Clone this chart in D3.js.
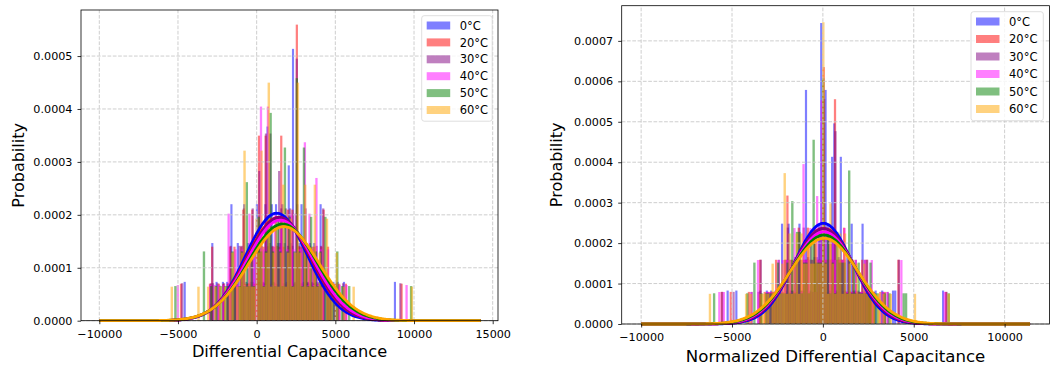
<!DOCTYPE html>
<html>
<head>
<meta charset="utf-8">
<script src="https://cdn.jsdelivr.net/npm/d3@7"></script>
<style>
body { margin: 0; background: #fff; }
svg { display: block; font-family: "DejaVu Sans", sans-serif; }
</style>
</head>
<body>
<div id="chart"></div>
<script>
const width = 1050
const height = 367

const labels = ["0°C", "20°C", "30°C", "40°C", "50°C", "60°C"]
const colors = ["blue", "red", "purple", "magenta", "green", "orange"]

// ---- left panel: raw differential capacitance (100 bins per series) ----
const leftMin = [-4640, -4880, -4800, -5085, -5240, -5470]
const leftMax = [8855, 9280, 9200, 9600, 9890, 9940]
const left0 = [1,0,0,0,0,0,0,0,0,0, 0,0,0,2,0,1,0,0,1,0, 1,0,3,0,1,2,0,1,3,1, 2,1,1,2,3,1,2,1,3,5, 2,3,1,3,2,2,3,2,1,4,
               2,7,1,3,2,3,1,2,1,2, 1,2,1,1,3,1,1,1,0,1, 1,0,1,0,0,1,0,0,0,0, 0,0,0,0,0,0,0,0,0,0, 0,0,0,0,0,0,0,0,0,1]
const left20 = [1,0,0,0,0,0,0,0,0,0, 0,0,0,1,2,0,0,1,0,1, 0,1,2,0,2,1,0,2,3,1, 1,1,3,1,2,5,1,2,5,2, 1,2,2,1,2,5,2,1,3,2,
                3,1,8,2,2,1,2,2,1,2, 2,1,0,2,3,0,2,1,0,1, 0,1,0,0,1,0,0,0,0,0, 0,0,0,0,0,0,0,0,0,0, 0,0,0,0,0,0,0,0,0,1]
const left30 = [1,0,0,0,0,0,0,0,0,0, 0,0,0,1,1,0,1,0,0,1, 0,1,2,1,1,0,2,2,3,0, 1,2,3,0,2,4,2,1,5,2, 5,2,1,2,4,3,1,3,2,3,
                2,1,7,2,1,2,3,1,2,1, 1,2,1,2,3,0,1,1,0,0, 1,0,0,1,0,0,0,0,0,0, 0,0,0,0,0,0,0,0,0,0, 0,0,0,0,0,0,0,0,0,1]
const left40 = [1,0,0,0,0,0,0,0,0,0, 0,0,0,0,1,0,1,0,1,0, 1,0,3,1,0,2,1,0,2,1, 1,3,2,2,2,1,6,2,1,6, 2,1,3,2,2,3,2,2,2,3,
                2,3,2,2,2,5,1,3,2,1, 4,1,2,1,0,2,1,0,1,0, 1,0,0,1,0,0,0,0,0,0, 0,0,0,0,0,0,0,0,0,0, 0,0,0,0,0,0,0,0,0,1]
const left50 = [1,0,0,0,0,0,0,0,0,0, 0,0,2,0,0,1,0,1,0,1, 0,1,1,0,2,1,0,1,2,1, 4,1,2,1,0,3,2,1,2,3, 6,2,1,3,2,1,5,2,3,1,
                2,7,2,1,5,2,1,3,1,2, 1,2,0,3,1,1,1,1,2,0, 1,0,0,1,0,0,0,0,0,0, 0,0,0,0,0,0,0,0,0,0, 0,0,0,0,0,0,0,0,0,1]
const left60 = [1,0,0,0,0,0,0,0,0,0, 0,1,0,0,0,1,0,0,1,0, 1,0,1,0,1,2,0,1,1,2, 5,1,2,1,1,3,2,5,1,2, 7,1,2,3,1,2,4,1,2,3,
                1,2,7,2,1,4,1,2,1,4, 1,2,1,0,3,1,1,0,2,0, 0,1,0,0,0,1,0,0,0,0, 0,0,0,0,0,0,0,0,0,0, 0,0,0,0,0,0,0,0,0,1]
// fitted normal curves
const leftMu = [1270, 1400, 1450, 1500, 1650, 1735]
const leftSigma = [1965, 2045, 2045, 2100, 2185, 2245]
const leftCurveRange = [-10000, 14240]
const leftXTicks = [-10000, -5000, 0, 5000, 10000, 15000]
const leftYTicks = [0, 0.0001, 0.0002, 0.0003, 0.0004, 0.0005]

// ---- right panel: normalized differential capacitance ----
const rightMin = [-5300, -5630, -5600, -5760, -6050, -6280]
const rightMax = [6675, 6840, 6860, 6760, 6990, 6990]
const right0 = [1,0,0,0,1,0,0,0,0,0, 0,0,0,0,0,1,0,0,1,0, 1,0,1,0,1,3,0,1,3,1, 1,2,0,3,1,1,7,2,1,0, 2,2,3,9,0,7,3,1,5,6,
                1,2,5,1,1,2,1,3,1,1, 1,0,3,1,1,1,0,0,1,0, 0,1,0,0,0,0,1,1,0,0, 0,0,0,0,0,0,0,0,0,0, 0,0,0,0,0,0,0,0,0,1]
const right20 = [1,0,0,0,1,0,0,0,0,0, 0,0,1,0,0,0,0,2,0,1, 0,1,1,1,2,1,0,1,2,4, 1,2,1,1,3,2,2,2,3,1, 2,3,1,2,2,8,2,2,3,2,
                 7,1,2,2,3,1,2,1,2,1, 1,1,2,1,2,1,1,1,0,0, 1,0,1,0,0,0,0,0,2,0, 0,0,0,0,0,0,0,0,0,0, 0,0,0,0,0,0,0,0,0,1]
const right30 = [1,0,0,0,0,1,0,0,0,0, 0,0,0,1,0,0,1,2,0,0, 1,0,1,1,1,2,1,0,2,3, 2,1,2,2,2,1,3,2,2,2, 1,3,2,3,3,7,1,3,2,3,
                 6,2,2,2,2,1,2,1,1,2, 1,1,1,2,2,1,1,1,0,0, 0,1,0,1,0,0,0,0,2,0, 0,0,0,0,0,0,0,0,0,0, 0,0,0,0,0,0,0,0,0,1]
const right40 = [1,0,1,0,0,0,0,0,0,0, 0,0,0,0,1,0,0,2,0,0, 0,1,1,1,1,1,2,1,2,2, 2,2,1,3,2,2,1,5,2,2, 3,2,1,4,2,7,2,3,2,2,
                 3,2,2,2,2,3,1,2,1,1, 2,1,1,1,2,1,0,2,0,0, 0,0,1,0,1,0,0,0,0,0, 2,0,0,0,0,0,0,0,0,0, 0,0,0,0,0,0,0,0,0,1]
const right50 = [1,0,0,0,0,0,0,0,0,0, 0,0,0,0,1,0,0,2,0,0, 1,0,1,1,1,1,1,2,1,1, 1,2,1,4,1,3,3,1,2,2, 1,3,6,2,2,2,8,2,3,1,
                 2,1,3,2,2,2,1,5,1,2, 1,2,1,1,1,1,2,0,1,1, 0,0,1,0,1,0,0,0,0,0, 1,1,0,0,0,0,0,0,0,0, 0,0,0,0,0,0,0,0,0,1]
const right60 = [1,0,0,0,0,0,0,0,0,0, 0,0,0,0,0,1,0,1,0,0, 0,1,1,1,1,0,2,1,1,1, 2,5,1,3,1,2,3,1,3,2, 2,3,2,2,3,2,2,10,2,1,
                 4,2,1,3,3,1,3,1,2,1, 1,2,1,1,2,1,1,1,1,0, 1,0,1,0,0,1,0,0,0,0, 0,0,0,0,0,1,0,0,0,0, 0,0,0,0,0,0,0,0,0,1]
const rightMu = [30, 40, 40, 50, 60, 70]
const rightSigma = [1603, 1690, 1690, 1750, 1813, 1882]
const rightCurveRange = [-10000, 11400]
const rightXTicks = [-10000, -5000, 0, 5000, 10000]
const rightYTicks = [0, 0.0001, 0.0002, 0.0003, 0.0004, 0.0005, 0.0006, 0.0007]

var svg = d3.select("#chart")
    .append("svg")
    .attr("width", width)
    .attr("height", height)

drawPanel({
    counts: [left0, left20, left30, left40, left50, left60],
    mins: leftMin, maxs: leftMax,
    mu: leftMu, sigma: leftSigma, curveRange: leftCurveRange,
    xDomain: [-11163, 15337], xRange: [81, 498],
    yDomain: [0, 0.000587], yRange: [320.7, 10],
    xTicks: leftXTicks, yTicks: leftYTicks,
    xLabel: "Differential Capacitance", xLabelY: 357.3, xLabelSize: 16.2,
    yLabelX: 23.5,
    legend: {x: 421.7, y: 15.7, w: 70.5, h: 105.5, row0: 25.5, step: 16.9}
})

drawPanel({
    counts: [right0, right20, right30, right40, right50, right60],
    mins: rightMin, maxs: rightMax,
    mu: rightMu, sigma: rightSigma, curveRange: rightCurveRange,
    xDomain: [-11070, 12470], xRange: [621.7, 1049.5],
    yDomain: [0, 0.000787], yRange: [324, 5.7],
    xTicks: rightXTicks, yTicks: rightYTicks,
    xLabel: "Normalized Differential Capacitance", xLabelY: 362, xLabelSize: 16.6,
    yLabelX: 562,
    legend: {x: 971, y: 11.7, w: 72.3, h: 109, row0: 21.5, step: 17.5}
})

function normalPdf(x, mu, s)
{
    return Math.exp(-0.5 * Math.pow((x - mu) / s, 2)) / (s * Math.sqrt(2 * Math.PI))
}

function drawPanel(p)
{
    var xScale = d3.scaleLinear().domain(p.xDomain).range(p.xRange)
    var yScale = d3.scaleLinear().domain(p.yDomain).range(p.yRange)
    var g = svg.append("g")

    // histograms (density = count / (N * binWidth))
    p.counts.forEach(function(counts, s)
    {
        var binW = (p.maxs[s] - p.mins[s]) / counts.length
        var n = d3.sum(counts)
        var bins = counts.map(function(c, i) { return {x0: p.mins[s] + i * binW, x1: p.mins[s] + (i + 1) * binW, d: c / (n * binW)} })
            .filter(function(b) { return b.d > 0 })
        g.append("g")
            .selectAll("rect")
            .data(bins)
            .join("rect")
            .attr("x", function(b) { return xScale(b.x0) })
            .attr("width", function(b) { return xScale(b.x1) - xScale(b.x0) })
            .attr("y", function(b) { return yScale(b.d) })
            .attr("height", function(b) { return yScale(0) - yScale(b.d) })
            .attr("fill", colors[s])
            .attr("fill-opacity", 0.5)
    })

    // grid
    var grid = g.append("g")
        .attr("stroke", "#c8c8c8")
        .attr("stroke-width", 0.9)
        .attr("stroke-dasharray", "3.7,1.6")
    grid.selectAll(".gx").data(p.xTicks).join("line")
        .attr("x1", function(d) { return xScale(d) }).attr("x2", function(d) { return xScale(d) })
        .attr("y1", p.yRange[0]).attr("y2", p.yRange[1])
    grid.selectAll(".gy").data(p.yTicks).join("line")
        .attr("y1", function(d) { return yScale(d) }).attr("y2", function(d) { return yScale(d) })
        .attr("x1", p.xRange[0]).attr("x2", p.xRange[1])

    // fitted curves
    var xs = d3.range(p.curveRange[0], p.curveRange[1], (p.curveRange[1] - p.curveRange[0]) / 400).concat([p.curveRange[1]])
    p.mu.forEach(function(mu, s)
    {
        var line = d3.line()
            .x(function(x) { return xScale(x) })
            .y(function(x) { return yScale(normalPdf(x, mu, p.sigma[s])) })
        g.append("path")
            .attr("d", line(xs))
            .attr("fill", "none")
            .attr("stroke", colors[s])
            .attr("stroke-width", 2.8)
    })

    // axes
    var xAxis = d3.axisBottom(xScale).tickValues(p.xTicks).tickSize(3.5).tickPadding(5.5).tickFormat(d3.format("d"))
    var yAxis = d3.axisLeft(yScale).tickValues(p.yTicks).tickSize(3.5).tickPadding(5).tickFormat(d3.format(".4f"))
    var xg = g.append("g")
        .attr("transform", "translate(0," + p.yRange[0] + ")")
        .call(xAxis)
    var yg = g.append("g")
        .attr("transform", "translate(" + p.xRange[0] + ",0)")
        .call(yAxis)
    ;[xg, yg].forEach(function(a)
    {
        a.select(".domain").remove()
        a.selectAll("line").attr("stroke", "#000").attr("stroke-width", 0.8)
        a.selectAll("text").attr("fill", "#000").style("font-size", "11.2px").style("font-family", "DejaVu Sans")
    })

    // spines
    g.append("rect")
        .attr("x", p.xRange[0]).attr("y", p.yRange[1])
        .attr("width", p.xRange[1] - p.xRange[0]).attr("height", p.yRange[0] - p.yRange[1])
        .attr("fill", "none").attr("stroke", "#000").attr("stroke-width", 0.8)

    // labels
    g.append("text")
        .attr("x", (p.xRange[0] + p.xRange[1]) / 2)
        .attr("y", p.xLabelY)
        .attr("text-anchor", "middle")
        .style("font-size", p.xLabelSize + "px")
        .text(p.xLabel)
    g.append("text")
        .attr("transform", "translate(" + p.yLabelX + "," + ((p.yRange[0] + p.yRange[1]) / 2) + ")rotate(-90)")
        .attr("text-anchor", "middle")
        .style("font-size", "16px")
        .text("Probability")

    // legend
    var L = p.legend
    var lg = g.append("g")
    lg.append("rect")
        .attr("x", L.x).attr("y", L.y).attr("width", L.w).attr("height", L.h)
        .attr("rx", 2.5)
        .attr("fill", "#fff").attr("fill-opacity", 0.8)
        .attr("stroke", "#d5d5d5").attr("stroke-width", 0.8)
    labels.forEach(function(lab, s)
    {
        var cy = L.row0 + s * L.step
        lg.append("rect")
            .attr("x", L.x + 5).attr("y", cy - 4)
            .attr("width", 23.5).attr("height", 8)
            .attr("fill", colors[s]).attr("fill-opacity", 0.5)
        lg.append("text")
            .attr("x", L.x + 38).attr("y", cy)
            .attr("dy", "0.36em")
            .style("font-size", "11.5px")
            .text(lab)
    })
}
</script>
</body>
</html>
